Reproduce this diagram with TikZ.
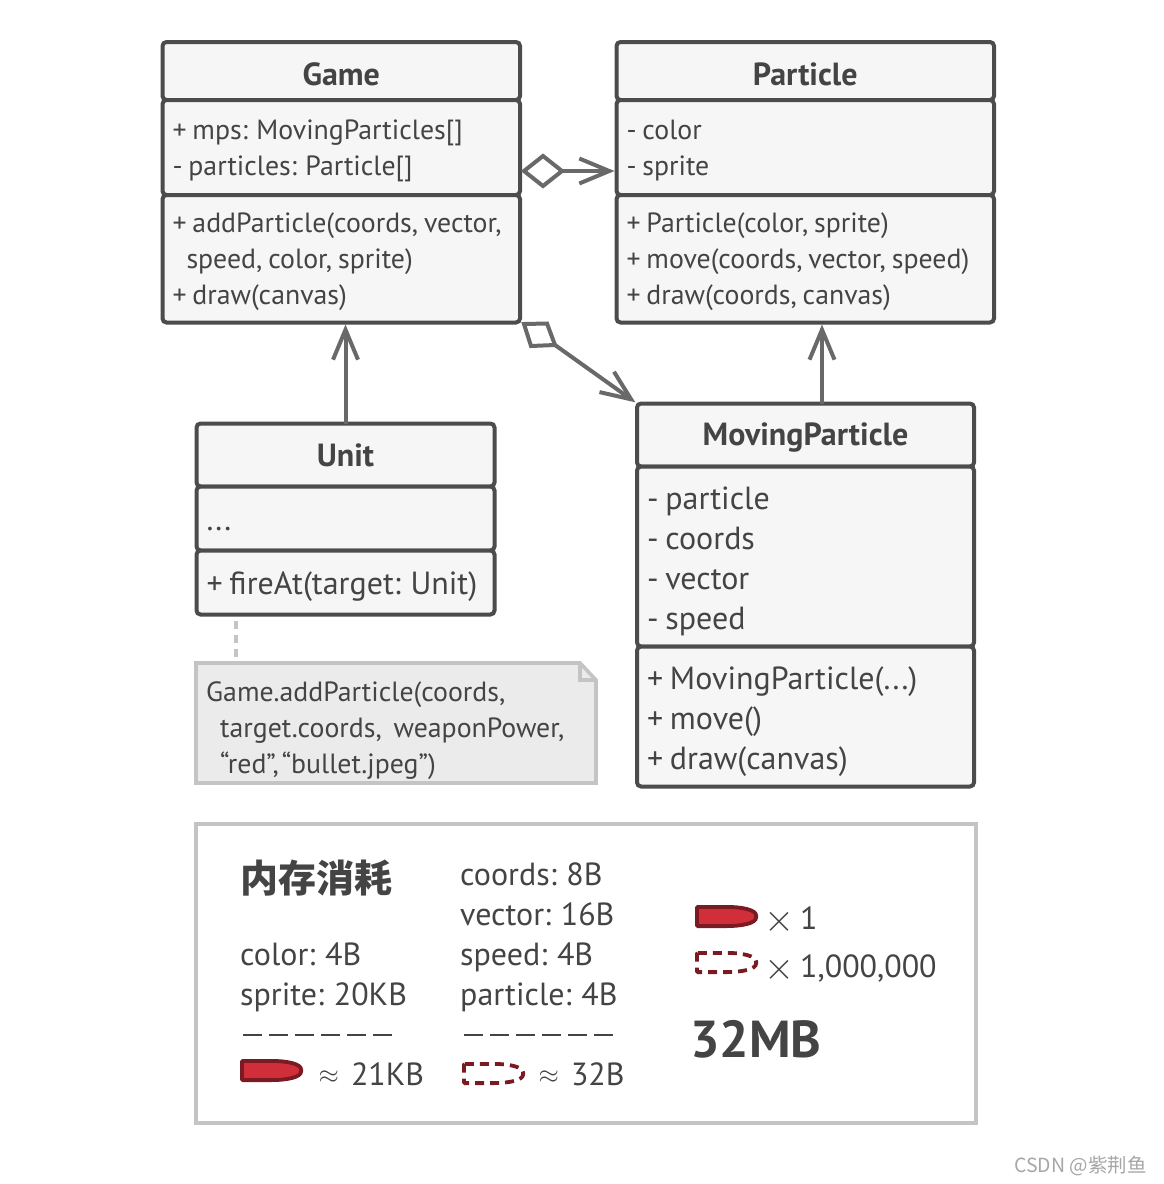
\documentclass[tikz,border=0pt]{standalone}
\usepackage{fontspec}
\setmainfont{PT Sans}[WordSpace=0.8]
\newfontfamily\cjkfont{Noto Sans CJK SC}
\usetikzlibrary{arrows.meta,shapes.geometric}
\definecolor{umlline}{HTML}{4C4C4C}
\definecolor{umlarrow}{HTML}{696969}
\definecolor{umltext}{HTML}{444444}
\definecolor{umlfill}{HTML}{F6F6F6}
\definecolor{notefill}{HTML}{EBEBEB}
\definecolor{noteline}{HTML}{C4C4C4}
\definecolor{bulletred}{HTML}{D02F39}
\definecolor{bulletdark}{HTML}{7A1A22}
\tikzset{>={Straight Barb[length=30pt,width=25pt,line width=4pt]},
  classpart/.style={draw=umlline,fill=umlfill,line width=4pt,rounded corners=4pt,
    anchor=north west,outer sep=0pt,inner xsep=10pt,inner ysep=0pt,align=flush left,text=umltext},
  textdrop/.style={execute at begin node={\rule{0pt}{#1}}},
  smallfont/.style={font=\fontsize{27.8}{36}\selectfont},
  bigfont/.style={font=\fontsize{32}{40}\selectfont},
  classhead/.style={classpart,align=center,font=\fontsize{32}{36}\selectfont\bfseries},
  assoc/.style={->,draw=umlarrow,line width=4pt,shorten >=2pt},
  legendtext/.style={anchor=north west,inner sep=0pt,align=flush left,text=umltext,font=\fontsize{32}{40}\selectfont},
  sumrule/.style={draw=umltext,line width=2.4pt,dash pattern=on 18.5pt off 7.5pt}}
\newcommand{\bulletpath}{(1.9,1.9) -- (30,1.9) .. controls (48,1.9) and (61.1,5) .. (61.1,11.5)
    .. controls (61.1,18) and (48,21.1) .. (30,21.1) -- (1.9,21.1) -- cycle}
\newcommand{\bulletfull}[2]{%
  \draw[shift={(#1,#2)},fill=bulletred,draw=bulletdark,line width=3.8pt,rounded corners=1pt] \bulletpath;
}
\newcommand{\bulletghost}[2]{%
  \draw[shift={(#1,#2)},draw=bulletdark,line width=3.8pt,rounded corners=1pt,dash pattern=on 9pt off 6pt] \bulletpath;
}
\newcommand{\approxsym}{\raisebox{2pt}{\scalebox{1.05}{$\approx$}}\hspace{12pt}}
\newcommand{\timessym}{\raisebox{-2pt}{\scalebox{1.55}{$\times$}}\hspace{6pt}}
\begin{document}
\begin{tikzpicture}[x=1pt,y=-1pt]
\useasboundingbox (0,0) rectangle (1163,1184);

\node[classhead,textdrop=30pt,text width=337.5pt,minimum height=58pt] (gamehead) at (162.5,42) {Game};
\node[classpart,smallfont,textdrop=27pt,text width=337.5pt,minimum height=95pt] (gameattr) at (162.5,100) {+ mps: MovingParticles[]\\- particles: Particle[]};
\node[classpart,smallfont,textdrop=26pt,text width=337.5pt,minimum height=127.5pt] (gameops) at (162.5,195) {+ addParticle(coords, vector,\\\hspace*{14pt}speed, color, sprite)\\+ draw(canvas)};

\node[classhead,textdrop=30pt,text width=357.5pt,minimum height=58pt] (parthead) at (616.5,42) {Particle};
\node[classpart,smallfont,textdrop=26pt,text width=357.5pt,minimum height=95pt] (partattr) at (616.5,100) {- color\\- sprite};
\node[classpart,smallfont,textdrop=26pt,text width=357.5pt,minimum height=127.5pt] (partops) at (616.5,195) {+ Particle(color, sprite)\\+ move(coords, vector, speed)\\+ draw(coords, canvas)};

\node[classhead,text width=278pt,minimum height=63pt] (unithead) at (196.5,423.5) {Unit};
\node[classpart,bigfont,textdrop=24pt,text width=278pt,minimum height=64pt] (unitattr) at (196.5,486.5) {...};
\node[classpart,bigfont,textdrop=31pt,text width=278pt,minimum height=64pt] (unitops) at (196.5,550.5) {+ fireAt(target: Unit)};

\node[classhead,textdrop=27pt,text width=317pt,minimum height=63pt] (movehead) at (637,403.5) {MovingParticle};
\node[classpart,bigfont,textdrop=33pt,text width=317pt,minimum height=180pt] (moveattr) at (637,466.5) {- particle\\- coords\\- vector\\- speed};
\node[classpart,bigfont,textdrop=33pt,text width=317pt,minimum height=140pt] (moveops) at (637,646.5) {+ MovingParticle(...)\\+ move()\\+ draw(canvas)};

\node[diamond,draw=umlarrow,fill=white,line width=4pt,inner sep=0pt,outer sep=0pt,minimum width=38pt,minimum height=30pt] (gamemps) at (543,171) {};
\draw[assoc] (gamemps.east) -- (gamemps.east -| partattr.west);
\coordinate (gamelink) at (555,345);
\draw[draw=umlarrow,fill=white,line width=4pt] (524,324) -- (547,323.5) -- (gamelink) -- (531,346) -- cycle;
\draw[assoc] (gamelink) -- (movehead.north west);
\draw[assoc] (unithead.north) -- (unithead.north |- gameops.south);
\coordinate (moveup) at (822,403.5);
\draw[assoc] (moveup) -- (moveup |- partops.south);

\coordinate (notetop) at (236,663);
\draw[draw=noteline,line width=3.6pt,dash pattern=on 8pt off 6pt] (unitops.south -| notetop) ++(0,6) -- (notetop);
\draw[fill=notefill,draw=noteline,line width=3.6pt] (196,663) -- (580,663) -- (596,680) -- (596,783) -- (196,783) -- cycle;
\draw[draw=noteline,line width=3.6pt] (580,663) -- (580,680) -- (596,680);
\node[anchor=west,inner sep=0pt,align=left,smallfont,text=umltext] (notetext) at (206,731) {Game.addParticle(coords,\\\hspace*{14pt}target.coords,\ \ weaponPower,\\\hspace*{14pt}“red”,\hspace{3pt}{}“bullet.jpeg”)};

\draw[draw=noteline,line width=3.6pt] (196,824) rectangle (976,1123);
\node[legendtext,font=\cjkfont\bfseries\fontsize{38}{40}\selectfont] (memtitle) at (240,860) {内存消耗};
\node[legendtext] (intrinsic) at (240,943) {color: 4B\\sprite: 20KB};
\node[legendtext] (extrinsic) at (460,863) {coords: 8B\\vector: 16B\\speed: 4B\\particle: 4B};
\draw[sumrule] (243,1035) -- (394,1035);
\draw[sumrule] (464,1035) -- (615,1035);
\bulletfull{240}{1059}
\bulletghost{462}{1062}
\node[legendtext] (fullsize) at (318.5,1063) {\approxsym 21KB};
\node[legendtext] (ghostsize) at (538.5,1063) {\approxsym 32B};
\bulletfull{695}{905}
\bulletghost{695}{951}
\node[legendtext] (fullcount) at (764,907) {\timessym 1};
\node[legendtext] (ghostcount) at (764,955) {\timessym 1,000,000};
\node[legendtext,font=\fontsize{52}{52}\selectfont\bfseries] (total) at (690,1020) {32MB};
\node[anchor=east,inner sep=0pt,text=black!35,font=\cjkfont\fontsize{19.5}{20}\selectfont] (watermark) at (1147,1166) {CSDN @紫荆鱼};
\end{tikzpicture}
\end{document}
